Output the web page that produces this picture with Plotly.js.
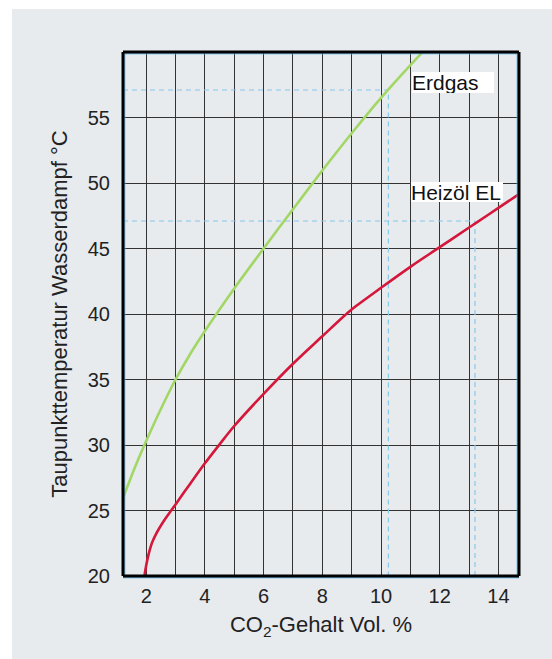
<!DOCTYPE html>
<html>
<head>
<meta charset="utf-8">
<script src="https://cdn.plot.ly/plotly-3.0.1.min.js"></script>
<style>
  html, body { margin: 0; padding: 0; background: #ffffff; width: 552px; height: 659px; overflow: hidden; }
  #chart { position: absolute; left: 12px; top: 9px; width: 540px; height: 650px; }
</style>
</head>
<body>
<div id="chart"></div>
<script>
// ---- data ----
const erdgasX = [1.22, 1.6, 2.0, 2.5, 3.0, 3.5, 4.0, 5.0, 6.0, 7.0, 8.0, 9.0, 10.0, 11.0, 11.46];
const erdgasY = [26.0, 28.2, 30.3, 32.75, 35.0, 36.95, 38.7, 41.95, 45.0, 48.0, 50.95, 53.8, 56.5, 59.0, 60.1];

const heizolX = [1.94, 1.98, 2.04, 2.11, 2.2, 2.3, 2.42, 2.6, 2.87, 3.2, 3.5, 4.0, 4.5, 5.0, 6.0, 7.0, 8.0, 8.77, 9.0, 10.0, 11.0, 12.0, 13.0, 13.2, 14.0, 14.7];
const heizolY = [20.0, 20.55, 21.25, 21.9, 22.55, 23.05, 23.55, 24.2, 25.05, 26.1, 27.05, 28.6, 30.05, 31.45, 33.9, 36.2, 38.3, 39.9, 40.35, 42.0, 43.6, 45.1, 46.6, 46.9, 48.1, 49.15];

// reading lines (CO2 value, dew point) for each fuel
const refLabels = ["Erdgas", "Heizöl EL"];
const refX = [10.25, 13.2];
const refY = [57.1, 47.1];

const xTicks = [2, 4, 6, 8, 10, 12, 14];
const yTicks = [20, 25, 30, 35, 40, 45, 50, 55];
const xRange = [1.21, 14.7];
const yRange = [20, 60];

// ---- styles ----
const bg = "#e8ebee";
const grid = "#333333";
const fontFam = "Liberation Sans, Arial, Helvetica, sans-serif";
const dashBlue = "#86c8ec";

const traces = [];
for (let i = 0; i < refX.length; i++) {
  traces.push({
    x: [xRange[0], refX[i], refX[i]],
    y: [refY[i], refY[i], yRange[0]],
    mode: "lines",
    line: { color: dashBlue, width: 1.2, dash: "5px,4px" },
    hoverinfo: "skip",
    showlegend: false
  });
}
traces.push({
  x: erdgasX, y: erdgasY, mode: "lines", name: "Erdgas",
  line: { color: "#a2d766", width: 2.6, shape: "spline", smoothing: 0.6 },
  showlegend: false
});
traces.push({
  x: heizolX, y: heizolY, mode: "lines", name: "Heizöl EL",
  line: { color: "#d4173a", width: 2.6, shape: "spline", smoothing: 1.0 },
  showlegend: false
});

const annPos = [
  { x: 11.07, y: 58.47, w: 82, h: 21 },
  { x: 11.02, y: 50.06, w: 92, h: 20 }
];
const annotations = refLabels.map((t, i) => ({
  x: annPos[i].x, y: annPos[i].y, xref: "x", yref: "y",
  xanchor: "left", yanchor: "top",
  text: t, showarrow: false, align: "left",
  width: annPos[i].w, height: annPos[i].h,
  bgcolor: "#ffffff", borderpad: 0, borderwidth: 0,
  font: { family: fontFam, size: 21, color: "#111111" }
}));

function pline(x0, y0, x1, y1, color, width) {
  return { type: "line", xref: "paper", yref: "paper", x0: x0, y0: y0, x1: x1, y1: y1,
           line: { color: color, width: width }, layer: "above" };
}
const blue = "#4fb0e0";
const dx = 1.8 / 396, dy = 1.8 / 524;
const shapes = [
  pline(dx, 0, dx, 1, blue, 1),             // left inner
  pline(0, 1 - dy, 1, 1 - dy, blue, 1),     // top inner
  pline(1 - dx, 0, 1 - dx, 1, blue, 1),     // right inner
  pline(0, -dy, 1, -dy, blue, 1),           // bottom outer
  pline(0, 0, 0, 1, "#000000", 3),
  pline(0, 1, 1, 1, "#000000", 3),
  pline(1, 0, 1, 1, "#000000", 3),
  pline(0, 0, 1, 0, "#000000", 3)
];

const layout = {
  width: 540, height: 650,
  margin: { l: 111, t: 43, r: 33, b: 83 },
  paper_bgcolor: bg, plot_bgcolor: bg,
  showlegend: false,
  font: { family: fontFam, color: "#222222" },
  xaxis: {
    range: xRange, tickvals: xTicks, ticktext: xTicks.map(String),
    showgrid: true, gridcolor: grid, gridwidth: 1,
    minor: { dtick: 1, tick0: 0, showgrid: true, gridcolor: grid, gridwidth: 1 },
    zeroline: false, showline: false,
    ticks: "outside", ticklen: 2, tickcolor: "rgba(0,0,0,0)",
    tickfont: { family: fontFam, size: 20, color: "#222222" },
    title: { text: "CO<sub>2</sub>-Gehalt Vol. %", font: { family: fontFam, size: 22, color: "#222222" }, standoff: 10 }
  },
  yaxis: {
    range: yRange, tickvals: yTicks, ticktext: yTicks.map(String),
    showgrid: true, gridcolor: grid, gridwidth: 1,
    zeroline: false, showline: false,
    ticks: "outside", ticklen: 8, tickcolor: "rgba(0,0,0,0)",
    tickfont: { family: fontFam, size: 20, color: "#222222" },
    title: { text: "Taupunkttemperatur Wasserdampf °C", font: { family: fontFam, size: 22, color: "#222222" }, standoff: 14 }
  },
  annotations: annotations,
  shapes: shapes
};

Plotly.newPlot("chart", traces, layout, { staticPlot: true, displayModeBar: false });
</script>
</body>
</html>
